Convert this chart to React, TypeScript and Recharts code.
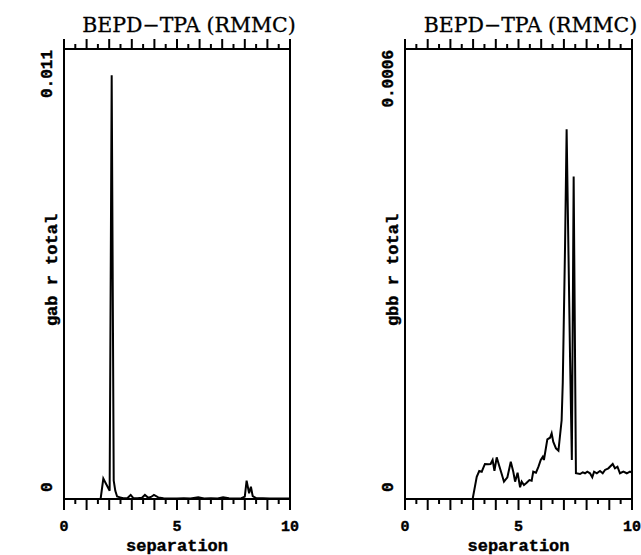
import React from "react";
import { LineChart, Line, XAxis, YAxis, Label } from "recharts";

// left panel: gab r total vs separation
const SEP_GAB = [
  0, 0.5, 1.0, 1.5, 1.62, 1.74, 1.87, 2.02, 2.11, 2.2, 2.27, 2.35, 2.48, 2.62,
  2.8, 2.95, 3.07, 3.25, 3.45, 3.58, 3.73, 3.85, 3.98, 4.17, 4.4, 4.7, 5.0, 5.3,
  5.6, 5.94, 6.2, 6.5, 6.8, 7.04, 7.3, 7.6, 7.85, 8.0, 8.08, 8.19, 8.27, 8.35,
  8.5, 8.8, 9.1, 9.4, 9.7, 10,
];
const GAB = [
  0, 0, 0, 0, 0, 0.0005, 0.00036, 0.0002, 0.01036, 0.00045, 0.0002, 0.00006,
  0.00004, 0.00002, 0.00002, 0.0001, 0.00002, 0.00002, 0.00003, 0.0001,
  0.00003, 0.00005, 0.0001, 0.00004, 0.00002, 0.00001, 0.00001, 0.00002,
  0.00001, 0.00004, 0.00001, 0.00002, 0.00001, 0.00004, 0.00002, 0.00001,
  0.00002, 0.00006, 0.00045, 0.00014, 0.0003, 0.00007, 0.00002, 0.00002,
  0.00001, 0.00001, 0.00001, 0.00001,
];

// right panel: gbb r total vs separation
const SEP_GBB = [
  0, 1, 2, 2.98, 3.16, 3.27, 3.38, 3.52, 3.67, 3.77, 3.86, 3.94, 4.04, 4.14,
  4.26, 4.36, 4.51, 4.66, 4.77, 4.85, 4.96, 5.07, 5.14, 5.24, 5.36, 5.48, 5.58,
  5.65, 5.77, 5.88, 5.98, 6.07, 6.12, 6.27, 6.39, 6.46, 6.53, 6.65, 6.76, 6.9,
  6.95, 7.05, 7.12, 7.27, 7.35, 7.43, 7.53, 7.71, 7.83, 7.93, 8.03, 8.15, 8.25,
  8.33, 8.45, 8.59, 8.71, 8.81, 8.96, 9.15, 9.25, 9.36, 9.47, 9.62, 9.77, 9.91,
  10,
];
const GBB = [
  0, 0, 0, 0, 0.0000297, 0.0000373, 0.0000364, 0.0000467, 0.0000463, 0.0000467,
  0.000052, 0.0000377, 0.0000556, 0.0000453, 0.0000333, 0.0000231, 0.0000289,
  0.0000497, 0.0000364, 0.0000231, 0.0000351, 0.0000156, 0.0000231, 0.0000187,
  0.0000217, 0.0000253, 0.0000244, 0.0000364, 0.0000351, 0.0000431, 0.000052,
  0.0000564, 0.000052, 0.0000796, 0.0000817, 0.0000876, 0.0000764, 0.0000676,
  0.0000644, 0.000105, 0.000155, 0.000336, 0.000493, 0.00019, 0.000052, 0.00043,
  0.0000343, 0.0000333, 0.0000356, 0.0000343, 0.0000364, 0.0000343, 0.0000289,
  0.0000364, 0.0000343, 0.0000373, 0.0000343, 0.0000387, 0.0000409, 0.0000467,
  0.0000409, 0.0000431, 0.0000343, 0.0000364, 0.0000343, 0.0000364, 0.0000351,
];

const X_TICKS = [
  0, 0.5, 1, 1.5, 2, 2.5, 3, 3.5, 4, 4.5, 5, 5.5, 6, 6.5, 7, 7.5, 8, 8.5, 9,
  9.5, 10,
];
const X_LABELS = [0, 5, 10];
const TITLE = "BEPD−TPA (RMMC)";
const X_TITLE = "separation";

const MONO = '"Liberation Mono", "DejaVu Sans Mono", monospace';
const SERIF = '"DejaVu Serif", "Liberation Serif", serif';

// heavier strokes so the typewriter-style text looks like the scan
const boldText = { fontFamily: MONO, fontWeight: "bold" as const, fill: "#000", stroke: "#000", strokeWidth: 0.4 };

function BottomTick({ x, y, payload }: any) {
  const v = payload.value;
  const major = Number.isInteger(v);
  return (
    <g>
      <line x1={x} x2={x} y1={y} y2={y + (major ? 11 : 5)} stroke="#000" strokeWidth={2} />
      {X_LABELS.includes(v) && (
        <text x={x} y={y + 28} textAnchor="middle" dominantBaseline="central" fontSize={15} {...boldText}>
          {v}
        </text>
      )}
    </g>
  );
}

function TopTick({ x, y, payload }: any) {
  const major = Number.isInteger(payload.value);
  return <line x1={x} x2={x} y1={y} y2={y - (major ? 10 : 5)} stroke="#000" strokeWidth={2} />;
}

type PanelProps = {
  sep: number[];
  vals: number[];
  yMax: number;
  yMaxLabel: string;
  yTitle: string;
  left: number;
  width: number;
  margin: { top: number; right: number; bottom: number; left: number };
};

function Panel({ sep, vals, yMax, yMaxLabel, yTitle, left, width, margin }: PanelProps) {
  const data = sep.map((s, i) => ({ sep: s, v: vals[i] }));

  const YTick = ({ x, y, payload }: any) => {
    const isZero = payload.value === 0;
    const px = x - 16;
    const py = isZero ? y - 7 : y + 1;
    return (
      <text
        x={px}
        y={py}
        transform={`rotate(-90, ${px}, ${py})`}
        textAnchor={isZero ? "start" : "end"}
        dominantBaseline="central"
        fontSize={16}
        {...boldText}
      >
        {isZero ? "0" : yMaxLabel}
      </text>
    );
  };

  return (
    <div style={{ position: "absolute", left, top: 0 }}>
      <LineChart width={width} height={555} data={data} margin={margin}>
        <XAxis
          xAxisId="bottom"
          dataKey="sep"
          type="number"
          domain={[0, 10]}
          ticks={X_TICKS}
          interval={0}
          height={1}
          tickSize={0}
          tickMargin={0}
          tickLine={false}
          axisLine={{ stroke: "#000", strokeWidth: 2 }}
          tick={(p: any) => <BottomTick {...p} />}
        >
          <Label
            content={({ viewBox }: any) => (
              <text
                x={viewBox.x + viewBox.width / 2}
                y={viewBox.y + 52}
                textAnchor="middle"
                fontSize={17}
                {...boldText}
              >
                {X_TITLE}
              </text>
            )}
          />
        </XAxis>
        <XAxis
          xAxisId="top"
          orientation="top"
          dataKey="sep"
          type="number"
          domain={[0, 10]}
          ticks={X_TICKS}
          interval={0}
          height={1}
          tickSize={0}
          tickMargin={0}
          tickLine={false}
          axisLine={{ stroke: "#000", strokeWidth: 2 }}
          tick={(p: any) => <TopTick {...p} />}
        >
          <Label
            content={({ viewBox }: any) => (
              <text
                x={viewBox.x + viewBox.width / 2 + 12}
                y={viewBox.y + viewBox.height - 17}
                textAnchor="middle"
                fontFamily={SERIF}
                fontSize={20.5}
                fill="#000"
                stroke="#000"
                strokeWidth={0.3}
              >
                {TITLE}
              </text>
            )}
          />
        </XAxis>
        <YAxis
          yAxisId="left"
          type="number"
          domain={[0, yMax]}
          ticks={[0, yMax]}
          interval={0}
          width={1}
          tickSize={0}
          tickMargin={0}
          tickLine={false}
          allowDataOverflow
          axisLine={{ stroke: "#000", strokeWidth: 2 }}
          tick={(p: any) => <YTick {...p} />}
        >
          <Label
            content={({ viewBox }: any) => {
              const cx = viewBox.x + viewBox.width - 12;
              const cy = viewBox.y + viewBox.height / 2 - 4;
              return (
                <text
                  x={cx}
                  y={cy}
                  transform={`rotate(-90, ${cx}, ${cy})`}
                  textAnchor="middle"
                  dominantBaseline="central"
                  fontSize={17}
                  {...boldText}
                >
                  {yTitle}
                </text>
              );
            }}
          />
        </YAxis>
        <YAxis
          yAxisId="right"
          orientation="right"
          type="number"
          domain={[0, yMax]}
          width={1}
          tick={false}
          tickLine={false}
          axisLine={{ stroke: "#000", strokeWidth: 2 }}
        />
        <Line
          xAxisId="bottom"
          yAxisId="left"
          type="linear"
          dataKey="v"
          stroke="#000"
          strokeWidth={2}
          dot={false}
          isAnimationActive={false}
        />
      </LineChart>
    </div>
  );
}

export default function App() {
  return (
    <div
      style={{
        position: "absolute",
        left: 0,
        top: 0,
        width: 641,
        height: 555,
        background: "#fff",
        overflow: "hidden",
      }}
    >
      <Panel
        sep={SEP_GAB}
        vals={GAB}
        yMax={0.011}
        yMaxLabel="0.011"
        yTitle="gab r total"
        left={0}
        width={320}
        margin={{ top: 48, right: 29, bottom: 55, left: 63 }}
      />
      <Panel
        sep={SEP_GBB}
        vals={GBB}
        yMax={0.0006}
        yMaxLabel="0.0006"
        yTitle="gbb r total"
        left={320}
        width={321}
        margin={{ top: 48, right: 8, bottom: 55, left: 84 }}
      />
    </div>
  );
}
